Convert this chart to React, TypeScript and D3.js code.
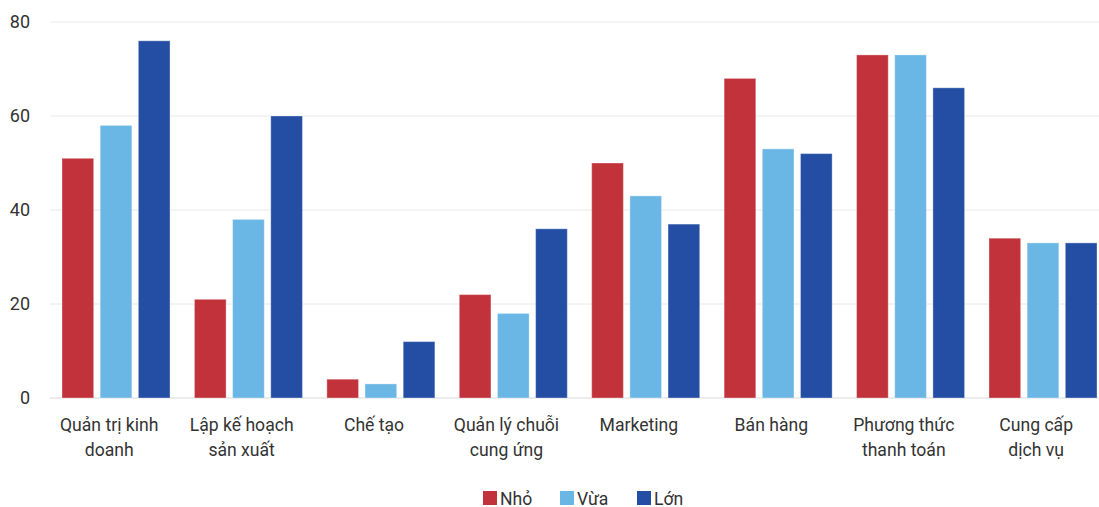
import React from "react";
import * as d3 from "d3";

const categories: string[][] = [
  ["Quản trị kinh", "doanh"],
  ["Lập kế hoạch", "sản xuất"],
  ["Chế tạo"],
  ["Quản lý chuỗi", "cung ứng"],
  ["Marketing"],
  ["Bán hàng"],
  ["Phương thức", "thanh toán"],
  ["Cung cấp", "dịch vụ"],
];
const seriesNames = ["Nhỏ", "Vừa", "Lớn"];
const nho = [51, 21, 4, 22, 50, 68, 73, 34];
const vua = [58, 38, 3, 18, 43, 53, 73, 33];
const lon = [76, 60, 12, 36, 37, 52, 66, 33];
const yTicks = [0, 20, 40, 60, 80];
const colors = ["#C1323B", "#6AB6E4", "#234EA3"];

const W = 1099;
const H = 507;
const FONT = "Roboto, 'Noto Sans', sans-serif";

export default function App() {
  const series = [nho, vua, lon];
  const x0 = d3
    .scaleBand<number>()
    .domain(d3.range(categories.length))
    .range([50, 1109.4])
    .paddingInner(0)
    .paddingOuter(0);
  const x1 = d3
    .scaleBand<number>()
    .domain([0, 1, 2])
    .range([12, x0.bandwidth() - 12.4])
    .paddingInner(0.17);
  const y = d3.scaleLinear().domain([0, 80]).range([398, 22]);

  return (
    <svg
      width={W}
      height={H}
      style={{ position: "absolute", left: 0, top: 0, display: "block" }}
      fontFamily={FONT}
    >
      <rect width={W} height={H} fill="#fff" />
      {yTicks.map((t) => (
        <g key={t}>
          <line
            x1={50}
            x2={W}
            y1={y(t)}
            y2={y(t)}
            stroke={t === 0 ? "#d9d9d9" : "#e8e8e8"}
            strokeWidth={1}
          />
          <text
            x={30}
            y={y(t)}
            dy="0.35em"
            textAnchor="end"
            fontSize={18}
            fill="#333"
          >
            {t}
          </text>
        </g>
      ))}
      {categories.map((c, i) => (
        <g key={i} transform={`translate(${x0(i)},0)`}>
          {series.map((s, j) => (
            <rect
              key={j}
              x={x1(j)}
              y={y(s[i])}
              width={x1.bandwidth()}
              height={y(0) - y(s[i])}
              fill={colors[j]}
              stroke="rgba(255,255,255,0.35)"
              strokeWidth={1}
            />
          ))}
          {c.map((line, k) => (
            <text
              key={k}
              x={x0.bandwidth() / 2 - 7}
              y={431 + k * 25}
              textAnchor="middle"
              fontSize={17.6}
              fill="#333"
            >
              {line}
            </text>
          ))}
        </g>
      ))}
      {seriesNames.map((n, j) => (
        <g key={n} transform={`translate(${483 + j * 77},0)`}>
          <rect x={0} y={491} width={14} height={14} fill={colors[j]} />
          <text x={17} y={504.5} fontSize={17.6} fill="#333">
            {n}
          </text>
        </g>
      ))}
    </svg>
  );
}
